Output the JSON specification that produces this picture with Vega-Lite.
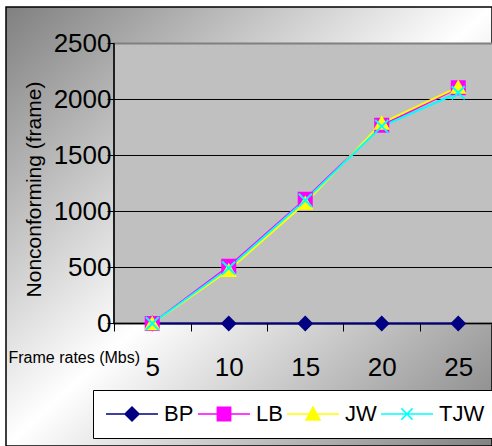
{
  "$schema": "https://vega.github.io/schema/vega-lite/v6.json",
  "width": 486,
  "height": 439,
  "padding": {"left": 6, "top": 7, "right": 0, "bottom": 0},
  "autosize": {"type": "none"},
  "config": {
    "background": "white",
    "font": "Liberation Sans",
    "view": {
      "fill": {
        "gradient": "linear",
        "x1": 0, "y1": 0, "x2": 1, "y2": 1,
        "stops": [
          {"offset": 0, "color": "#808080"},
          {"offset": 0.5, "color": "#ffffff"},
          {"offset": 1, "color": "#828282"}
        ]
      },
      "stroke": "black",
      "strokeWidth": 1.5
    }
  },
  "datasets": {
    "series": [
      {"method": "BP", "rate": 5, "frames": 0},
      {"method": "BP", "rate": 10, "frames": 0},
      {"method": "BP", "rate": 15, "frames": 0},
      {"method": "BP", "rate": 20, "frames": 0},
      {"method": "BP", "rate": 25, "frames": 0},
      {"method": "LB", "rate": 5, "frames": 0},
      {"method": "LB", "rate": 10, "frames": 510},
      {"method": "LB", "rate": 15, "frames": 1110},
      {"method": "LB", "rate": 20, "frames": 1770},
      {"method": "LB", "rate": 25, "frames": 2105},
      {"method": "JW", "rate": 5, "frames": 0},
      {"method": "JW", "rate": 10, "frames": 475},
      {"method": "JW", "rate": 15, "frames": 1075},
      {"method": "JW", "rate": 20, "frames": 1790},
      {"method": "JW", "rate": 25, "frames": 2110},
      {"method": "TJW", "rate": 5, "frames": 0},
      {"method": "TJW", "rate": 10, "frames": 495},
      {"method": "TJW", "rate": 15, "frames": 1100},
      {"method": "TJW", "rate": 20, "frames": 1760},
      {"method": "TJW", "rate": 25, "frames": 2060}
    ]
  },
  "resolve": {
    "axis": {"x": "independent", "y": "independent"},
    "scale": {"shape": "independent"},
    "legend": {"color": "independent", "stroke": "independent", "shape": "independent"}
  },
  "layer": [
    {
      "data": {"values": [{}]},
      "mark": {"type": "rect", "fill": "#c0c0c0", "stroke": "#808080", "strokeWidth": 2, "clip": true},
      "encoding": {
        "x": {
          "datum": 2.5, "type": "quantitative",
          "scale": {"type": "linear", "domain": [-4.559, 27.206], "nice": false, "zero": false},
          "axis": {
            "orient": "bottom", "offset": -123,
            "values": [5, 10, 15, 20, 25], "format": "d",
            "domain": false, "grid": false, "ticks": false, "tickSize": 0,
            "labelPadding": 44, "labelBaseline": "middle",
            "labelFontSize": 26, "labelColor": "black", "labelFont": "Liberation Sans",
            "labelFlush": false, "labelOverlap": false,
            "title": "Frame rates (Mbs)", "titleFont": "Liberation Sans",
            "titleFontSize": 16, "titleFontWeight": "normal", "titleColor": "black",
            "titleX": 2, "titleY": 34, "titleAlign": "left", "titleBaseline": "middle",
            "zindex": 1
          }
        },
        "x2": {"datum": 30},
        "y": {
          "datum": 0, "type": "quantitative",
          "scale": {"type": "linear", "domain": [-1093.75, 2825.89], "nice": false, "zero": false},
          "axis": {
            "orient": "left", "offset": -108,
            "values": [0, 500, 1000, 1500, 2000, 2500], "format": "d",
            "domain": false, "grid": false,
            "ticks": true, "tickSize": 7, "tickColor": "black", "tickWidth": 1,
            "labelPadding": -4, "labelFontSize": 26, "labelColor": "black", "labelFont": "Liberation Sans",
            "labelFlush": false, "labelOverlap": false,
            "title": "Nonconforming (frame)", "titleFont": "Liberation Sans",
            "titleFontSize": 21, "titleFontWeight": "normal", "titleColor": "black",
            "titleAngle": 270, "titleX": -80, "titleY": 182,
            "titleAlign": "center", "titleBaseline": "middle",
            "zindex": 1
          }
        },
        "y2": {"datum": 2500}
      }
    },
    {
      "data": {"values": [{"level": 500}, {"level": 1000}, {"level": 1500}, {"level": 2000}]},
      "mark": {"type": "rule", "color": "black", "strokeWidth": 1, "clip": true},
      "encoding": {
        "x": {
          "datum": 2.5, "type": "quantitative",
          "scale": {"type": "linear", "domain": [-4.559, 27.206], "nice": false, "zero": false},
          "axis": {
            "orient": "bottom", "offset": -123,
            "values": [2.5, 7.5, 12.5, 17.5, 22.5],
            "domain": false, "grid": false, "labels": false,
            "ticks": true, "tickSize": 8, "tickColor": "black", "tickWidth": 1,
            "title": null, "zindex": 1
          }
        },
        "x2": {"datum": 30},
        "y": {
          "field": "level", "type": "quantitative",
          "scale": {"type": "linear", "domain": [-1093.75, 2825.89], "nice": false, "zero": false},
          "axis": null
        }
      }
    },
    {
      "data": {"values": [{}]},
      "mark": {"type": "rule", "color": "black", "strokeWidth": 1.5},
      "encoding": {
        "x": {"datum": 2.5, "type": "quantitative", "scale": {"type": "linear", "domain": [-4.559, 27.206], "nice": false, "zero": false}, "axis": null},
        "y": {"datum": 0, "type": "quantitative", "scale": {"type": "linear", "domain": [-1093.75, 2825.89], "nice": false, "zero": false}, "axis": null},
        "y2": {"datum": 2500}
      }
    },
    {
      "data": {"values": [{}]},
      "mark": {"type": "rule", "color": "black", "strokeWidth": 1.5, "clip": true},
      "encoding": {
        "x": {"datum": 2.5, "type": "quantitative", "scale": {"type": "linear", "domain": [-4.559, 27.206], "nice": false, "zero": false}, "axis": null},
        "x2": {"datum": 30},
        "y": {"datum": 0, "type": "quantitative", "scale": {"type": "linear", "domain": [-1093.75, 2825.89], "nice": false, "zero": false}, "axis": null}
      }
    },
    {
      "data": {"name": "series"},
      "mark": {"type": "line", "strokeWidth": 2},
      "encoding": {
        "x": {"field": "rate", "type": "quantitative", "scale": {"type": "linear", "domain": [-4.559, 27.206], "nice": false, "zero": false}, "axis": null},
        "y": {"field": "frames", "type": "quantitative", "scale": {"type": "linear", "domain": [-1093.75, 2825.89], "nice": false, "zero": false}, "axis": null},
        "color": {
          "field": "method", "type": "nominal",
          "scale": {"domain": ["BP", "LB", "JW", "TJW"], "range": ["#000080", "#ff00ff", "#ffff00", "#00ffff"]},
          "legend": null
        }
      }
    },
    {
      "data": {"name": "series"},
      "mark": {"type": "point", "filled": true, "size": 170, "strokeWidth": 2, "opacity": 1},
      "encoding": {
        "x": {"field": "rate", "type": "quantitative", "scale": {"type": "linear", "domain": [-4.559, 27.206], "nice": false, "zero": false}, "axis": null},
        "y": {"field": "frames", "type": "quantitative", "scale": {"type": "linear", "domain": [-1093.75, 2825.89], "nice": false, "zero": false}, "axis": null},
        "color": {
          "field": "method", "type": "nominal",
          "scale": {"domain": ["BP", "LB", "JW", "TJW"], "range": ["#000080", "#ff00ff", "#ffff00", "#00ffff"]},
          "legend": null
        },
        "stroke": {
          "field": "method", "type": "nominal",
          "scale": {"domain": ["BP", "LB", "JW", "TJW"], "range": ["#000080", "#ff00ff", "#ffff00", "#00ffff"]},
          "legend": null
        },
        "shape": {
          "field": "method", "type": "nominal",
          "scale": {"domain": ["BP", "LB", "JW", "TJW"], "range": ["diamond", "square", "triangle-up", "M-1,-1L1,1M-1,1L1,-1"]},
          "legend": null
        }
      }
    },
    {
      "data": {"name": "series"},
      "mark": {"type": "point", "filled": true, "size": 196, "strokeWidth": 1.5, "opacity": 0},
      "encoding": {
        "x": {"field": "rate", "type": "quantitative", "scale": {"type": "linear", "domain": [-4.559, 27.206], "nice": false, "zero": false}, "axis": null},
        "y": {"field": "frames", "type": "quantitative", "scale": {"type": "linear", "domain": [-1093.75, 2825.89], "nice": false, "zero": false}, "axis": null},
        "color": {
          "field": "method", "type": "nominal",
          "scale": {"domain": ["BP", "LB", "JW", "TJW"], "range": ["#000080", "#ff00ff", "#ffff00", "#00ffff"]},
          "legend": {
            "orient": "none", "legendX": 87, "legendY": 383,
            "direction": "horizontal", "title": null,
            "fillColor": "white", "strokeColor": "black",
            "padding": 13, "columnPadding": 1,
            "labelFontSize": 22, "labelColor": "black", "labelFont": "Liberation Sans",
            "labelOffset": 36, "symbolSize": 196, "symbolStrokeWidth": 1.5, "symbolOpacity": 1,
            "symbolFillColor": "white"
          }
        },
        "stroke": {
          "field": "method", "type": "nominal",
          "scale": {"domain": ["BP", "LB", "JW", "TJW"], "range": ["#000080", "#ff00ff", "#ffff00", "#00ffff"]},
          "legend": {"orient": "none", "legendX": 87, "legendY": 383, "direction": "horizontal", "title": null, "symbolFillColor": "white"}
        },
        "shape": {
          "field": "method", "type": "nominal",
          "scale": {
            "domain": ["BP", "LB", "JW", "TJW"],
            "range": [
              "M-1.571,0H5.857M1.143,0L2.143,-1L3.143,0L2.143,1Z",
              "M-1.571,0H5.857M1.193,-0.95H3.093V0.95H1.193Z",
              "M-1.571,0H5.857M2.143,-1L3.143,0.85H1.143Z",
              "M-1.571,0H5.857M1.343,-0.8L2.943,0.8M1.343,0.8L2.943,-0.8"
            ]
          },
          "legend": {"orient": "none", "legendX": 87, "legendY": 383, "direction": "horizontal", "title": null, "symbolFillColor": "white"}
        }
      }
    }
  ]
}
